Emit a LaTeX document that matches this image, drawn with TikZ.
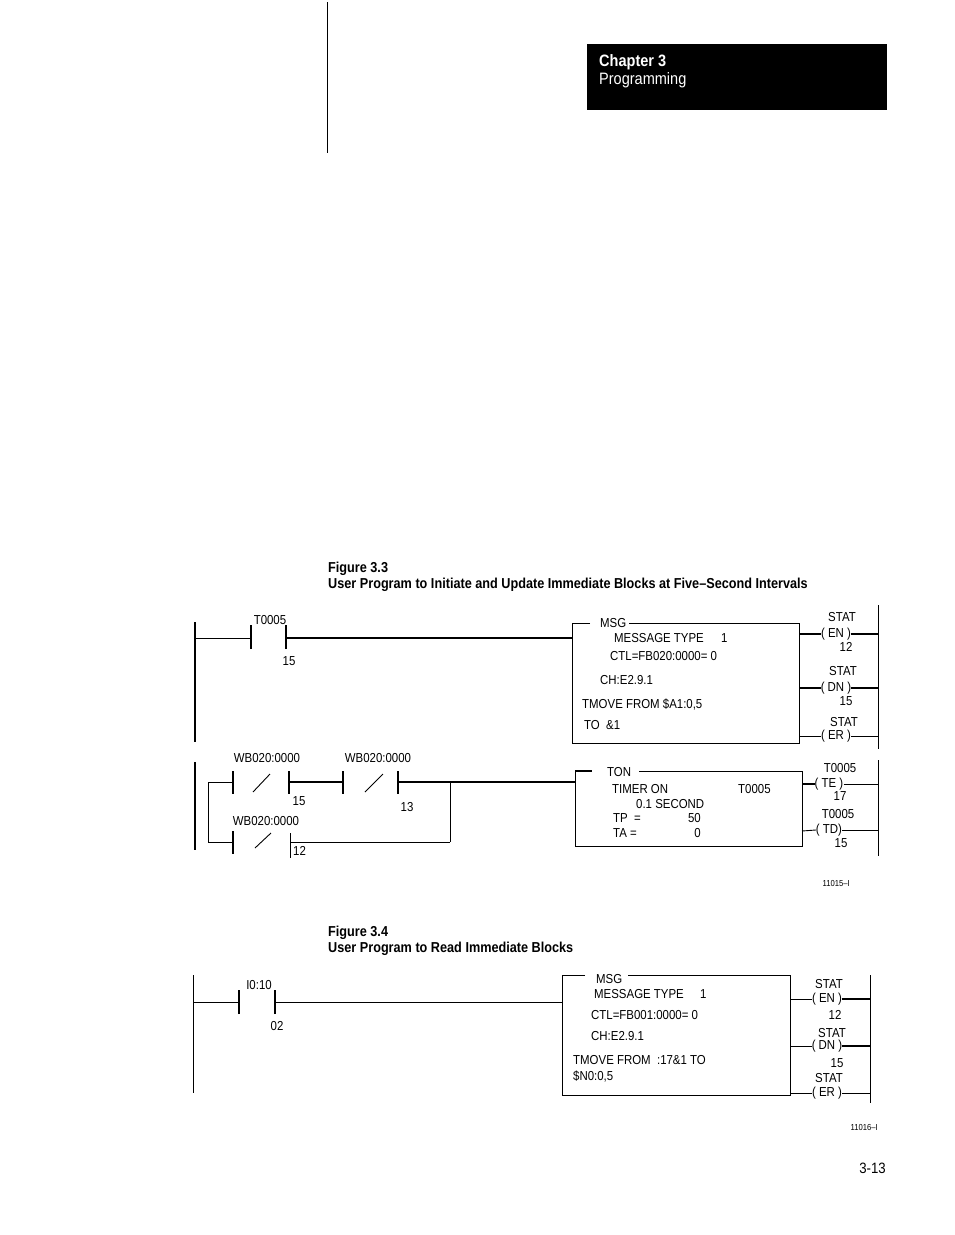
\documentclass[tikz,border=0pt]{standalone}
\usepackage{fontspec}
\setmainfont{Liberation Sans}[FakeStretch=0.88]
\newcommand\ladfont{\fontsize{13}{15}\selectfont}
\newcommand\capfont{\bfseries\fontsize{14.4}{17}\selectfont}
\newcommand\tinyfont{\fontsize{8.7}{10}\selectfont}
\begin{document}
\begin{tikzpicture}
[
    x=1pt, y=-1pt,
    every node/.style={inner sep=0pt, font=\ladfont},
    txt/.style={anchor=base west},
    mid/.style={anchor=base},
    coil/.style={anchor=center},
    wire/.style={line width=0.9pt},
    bus/.style={line width=1.8pt},
    rail/.style={line width=1.6pt},
    bar/.style={line width=1.3pt},
]
\useasboundingbox (0,0) rectangle (954,1235);

% page header
\draw[line width=0.8pt] (327,2) -- (327,153);
\fill (587,44) rectangle (887,110);
\node[txt, white, font=\bfseries\fontsize{16.5}{19}\selectfont] (chap) at (599,66) {Chapter 3};
\node[txt, white, font=\fontsize{16.5}{19}\selectfont] (prog) at (599,84) {Programming};

% figure 3.3
\node[txt, font=\capfont] (fig33) at (328,572) {Figure 3.3};
\node[txt, font=\capfont] (title33) at (328,588) {User Program to Initiate and Update Immediate Blocks at Five–Second Intervals};

% rung 1
\coordinate (lrA) at (195,622);
\coordinate (lrB) at (195,742);
\draw[rail] (lrA) -- (lrB);
\coordinate (c1a) at (251,638);
\coordinate (c1b) at (286,638);
\draw[wire] (195,638) -- (c1a);
\draw[bar] ([yshift=-11]c1a) -- ([yshift=13]c1a);
\draw[bar] ([yshift=-11]c1b) -- ([yshift=13]c1b);
\node[mid] (t5lbl) at (270,624) {T0005};
\node[mid] (t5bit) at (289,665) {15};
\coordinate (msgin) at (572,638);
\draw[bus] (c1b) -- (msgin);

\node[txt] (msgA) at (600,627) {MSG};
\draw[wire] ([xshift=-10]msgA.west |- 0,623) -- (572,623) -- (572,743) -- (799,743) -- (799,623) -- ([xshift=3]msgA.east |- 0,623);
\node[txt] (mtA) at (614,642) {MESSAGE TYPE};
\node[txt] (mtAv) at (721,642) {1};
\node[txt] (ctlA) at (610,660) {CTL=FB020:0000= 0};
\node[txt] (chA) at (600,684) {CH:E2.9.1};
\node[txt] (tmA) at (582,708) {TMOVE FROM \$A1:0,5};
\node[txt] (toA) at (584,729) {TO\ \ \&1};

\node[mid] (stA1) at (842,621) {STAT};
\node[coil] (enA) at (836,634) {( EN )};
\node[mid] (bA1) at (846,651) {12};
\node[mid] (stA2) at (843,675) {STAT};
\node[coil] (dnA) at (836,688) {( DN )};
\node[mid] (bA2) at (846,705) {15};
\node[mid] (stA3) at (844,726) {STAT};
\node[coil] (erA) at (836,736) {( ER )};
\coordinate (rrA) at (878,605);
\coordinate (rrB) at (878,749);
\draw[wire] (rrA) -- (rrB);
\draw[bus] (799,634) -- (enA.west);
\draw[bus] (enA.east) -- (rrA |- enA);
\draw[bus] (799,688) -- (dnA.west);
\draw[bus] (dnA.east) -- (rrA |- dnA);
\draw[wire] (799,736) -- (erA.west);
\draw[wire] (erA.east) -- (rrA |- erA);

% rung 2
\draw[rail] (195,762) -- (195,850);
\coordinate (br1) at (208,782);
\coordinate (br2) at (208,842);
\draw[wire] (233,782) -- (br1) -- (br2) -- (233,842);
% contact WB020:0000/15
\draw[bar] (233,771) -- (233,794);
\draw[wire] (253,792) -- (270,774);
\draw[bar] (289,771) -- (289,794);
\draw[bus] (289,782) -- (343,782);
% contact WB020:0000/13
\draw[bar] (343,771) -- (343,794);
\draw[wire] (365,792) -- (383,774);
\draw[bar] (398,771) -- (398,794);
\coordinate (jn1) at (450,782);
\coordinate (jn2) at (450,842);
\coordinate (tonin) at (575,782);
\draw[bus] (398,782) -- (tonin);
\draw[wire] (jn1) -- (jn2);
% contact WB020:0000/12
\draw[bar] (233,831) -- (233,854);
\draw[wire] (255,848) -- (271,833);
\draw[wire] (290,833) -- (290,858);
\draw[wire] (290,842) -- (jn2);
\node[mid] (wbA) at (267,762) {WB020:0000};
\node[mid] (wbB) at (378,762) {WB020:0000};
\node[mid] (wbC) at (266,825) {WB020:0000};
\node[mid] (wbAb) at (299,805) {15};
\node[mid] (wbBb) at (407,811) {13};
\node[txt] (wbCb) at (293,855) {12};

\node[txt] (ton) at (607,776) {TON};
\draw[bus] (575,771) -- ([xshift=-15]ton.west |- 0,771);
\draw[wire] (575,771) -- (575,846) -- (802,846) -- (802,771) -- ([xshift=8]ton.east |- 0,771);
\node[txt] (tmr) at (612,793) {TIMER ON};
\node[txt] (tmrn) at (738,793) {T0005};
\node[txt] (tbase) at (636,808) {0.1 SECOND};
\node[txt] (tp) at (613,822) {TP\ \ =};
\node[anchor=base east] (tpv) at (701,822) {50};
\node[txt] (ta) at (613,837) {TA =};
\node[anchor=base east] (tav) at (701,837) {0};

\node[mid] (teT) at (840,772) {T0005};
\node[coil] (te) at (829,784) {( TE )};
\node[mid] (teb) at (840,800) {17};
\node[mid] (tdT) at (838,818) {T0005};
\node[coil] (td) at (829,830) {( TD)};
\node[mid] (tdb) at (841,847) {15};
\coordinate (rrC) at (878,760);
\coordinate (rrD) at (878,856);
\draw[wire] (rrC) -- (rrD);
\draw[bus] (802,784) -- (te.west);
\draw[wire] (te.east) -- (rrC |- te);
\draw[wire] (802,831) -- (td.west);
\draw[wire] (td.east) -- (rrC |- td);
\node[anchor=base east, font=\tinyfont] (id33) at (850,886) {11015–I};

% figure 3.4
\node[txt, font=\capfont] (fig34) at (328,936) {Figure 3.4};
\node[txt, font=\capfont] (title34) at (328,952) {User Program to Read Immediate Blocks};

\draw[wire] (193,975) -- (193,1093);
\coordinate (c2a) at (239,1002);
\coordinate (c2b) at (275,1002);
\draw[wire] (193,1002) -- (c2a);
\draw[bar] ([yshift=-12]c2a) -- ([yshift=12]c2a);
\draw[bar] ([yshift=-12]c2b) -- ([yshift=12]c2b);
\node[mid] (inlbl) at (259,989) {I0:10};
\node[mid] (inbit) at (277,1030) {02};
\draw[wire] (c2b) -- (562,1002);

\node[txt] (msgB) at (596,983) {MSG};
\draw[wire] ([xshift=-11]msgB.west |- 0,975) -- (562,975) -- (562,1095) -- (790,1095) -- (790,975) -- ([xshift=6]msgB.east |- 0,975);
\node[txt] (mtB) at (594,998) {MESSAGE TYPE};
\node[txt] (mtBv) at (700,998) {1};
\node[txt] (ctlB) at (591,1019) {CTL=FB001:0000= 0};
\node[txt] (chB) at (591,1040) {CH:E2.9.1};
\node[txt] (tmB) at (573,1064) {TMOVE FROM\ \ :17\&1 TO};
\node[txt] (toB) at (573,1080) {\$N0:0,5};

\node[mid] (stB1) at (829,988) {STAT};
\node[coil] (enB) at (827,999) {( EN )};
\node[mid] (bB1) at (835,1019) {12};
\node[mid] (stB2) at (832,1037) {STAT};
\node[coil] (dnB) at (827,1046) {( DN )};
\node[mid] (bB2) at (837,1067) {15};
\node[mid] (stB3) at (829,1082) {STAT};
\node[coil] (erB) at (827,1093) {( ER )};
\coordinate (rrE) at (870,975);
\coordinate (rrF) at (870,1103);
\draw[wire] (rrE) -- (rrF);
\draw[wire] (790,999) -- (enB.west);
\draw[bus] (enB.east) -- (rrE |- enB);
\draw[wire] (790,1046) -- (dnB.west);
\draw[bus] (dnB.east) -- (rrE |- dnB);
\draw[wire] (790,1093) -- (erB.west);
\draw[wire] (erB.east) -- (rrE |- erB);
\node[anchor=base east, font=\tinyfont] (id34) at (878,1130) {11016–I};

\node[anchor=base east, font=\fontsize{15}{17}\selectfont] (page) at (886,1173) {3-13};
\end{tikzpicture}
\end{document}
